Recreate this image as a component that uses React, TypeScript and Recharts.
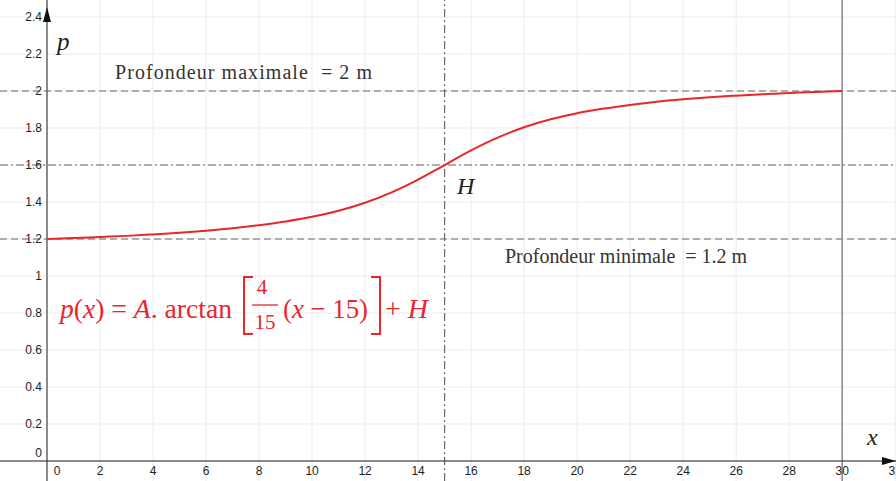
import React from 'react';
import { LineChart, Line, XAxis, YAxis, ReferenceLine, ReferenceDot } from 'recharts';

// abscisse x (m) et profondeur p (m)
const xValues = [0, 1, 2, 3, 4, 5, 6, 7, 8, 9, 10, 11, 12, 13, 14, 15, 16, 17, 18, 19, 20, 21, 22, 23, 24, 25, 26, 27, 28, 29, 30];
const depthValues = [1.2, 1.205, 1.211, 1.217, 1.225, 1.234, 1.245, 1.258, 1.275, 1.295, 1.32, 1.353, 1.396, 1.452, 1.521, 1.6, 1.679, 1.748, 1.804, 1.847, 1.88, 1.905, 1.925, 1.942, 1.955, 1.966, 1.975, 1.983, 1.989, 1.995, 2.0];

const xTicks = [0, 2, 4, 6, 8, 10, 12, 14, 16, 18, 20, 22, 24, 26, 28, 30, 32];
const yTicks = [0, 0.2, 0.4, 0.6, 0.8, 1, 1.2, 1.4, 1.6, 1.8, 2, 2.2, 2.4];

const depthMax = 2;
const depthMin = 1.2;
const H = 1.6;
const xMid = 15;
const xEnd = 30;

const W = 896;
const HGT = 481;
const RED = '#e8262c';
const TICK_FONT = '"Liberation Sans", Arial, sans-serif';
const SERIF = '"Liberation Serif", "Times New Roman", serif';

const data = xValues.map((x, i) => ({ x, p: depthValues[i] }));

const fmt = (v: number) => String(Number(v.toFixed(1)));

const XTickLabel = (v: number) => (props: any) => (
    <text x={props.cx + (v === 0 ? 10 : 0)} y={props.cy + 14} textAnchor="middle"
        fontFamily={TICK_FONT} fontSize={12} fill="#1e1e1e">{fmt(v)}</text>
);

const YTickLabel = (v: number) => (props: any) => (
    <text x={props.cx - 5} y={props.cy + (v === 0 ? -4 : 4)} textAnchor="end"
        fontFamily={TICK_FONT} fontSize={12} fill="#1e1e1e">{fmt(v)}</text>
);

const Overlay = () => (
    <svg width={W} height={HGT} style={{ position: 'absolute', left: 0, top: 0, pointerEvents: 'none' }}>
        {/* flèches des axes */}
        <polygon points="47,7 43,22 51,22" fill="#111" />
        <polygon points="896,461 882,457 882,465" fill="#111" />

        <text x={57} y={50} fontFamily={SERIF} fontStyle="italic" fontSize={25} fill="#222">p</text>
        <text x={867} y={445} fontFamily={SERIF} fontStyle="italic" fontSize={24} fill="#222">x</text>
        <text x={457} y={194} fontFamily={SERIF} fontStyle="italic" fontSize={24} fill="#222">H</text>

        <text x={115} y={79} fontFamily={SERIF} fontSize={20} fill="#333" textLength={257} lengthAdjust="spacing">
            Profondeur maximale{'\u00a0\u00a0'}= 2 m
        </text>
        <text x={505} y={263} fontFamily={SERIF} fontSize={20} fill="#333" textLength={242} lengthAdjust="spacing">
            Profondeur minimale{'\u00a0\u00a0'}= 1.2 m
        </text>

        {/* formule */}
        <g fill={RED} fontFamily={SERIF} fontSize={28}>
            <text x={60} y={318} textLength={172} lengthAdjust="spacingAndGlyphs">
                <tspan fontStyle="italic">p</tspan>(<tspan fontStyle="italic">x</tspan>) = <tspan fontStyle="italic">A</tspan>. arctan
            </text>
            <path d="M253,277 L244,277 L244,334 L253,334" fill="none" stroke={RED} strokeWidth={2} />
            <text x={262} y={294} textAnchor="middle" fontSize={21}>4</text>
            <line x1={252} y1={305} x2={278} y2={305} stroke={RED} strokeWidth={1.3} />
            <text x={265} y={329} textAnchor="middle" fontSize={21}>15</text>
            <text x={283} y={318} textLength={85} lengthAdjust="spacingAndGlyphs">
                (<tspan fontStyle="italic">x</tspan> − 15)
            </text>
            <path d="M371,277 L380,277 L380,334 L371,334" fill="none" stroke={RED} strokeWidth={2} />
            <text x={385} y={318} textLength={43} lengthAdjust="spacing">
                + <tspan fontStyle="italic">H</tspan>
            </text>
        </g>
    </svg>
);

export default function App() {
    return (
        <div style={{ position: 'relative', width: W, height: HGT, background: '#fff' }}>
            <style>{'body{margin:0}'}</style>
            <LineChart width={W} height={HGT} data={data} margin={{ top: 0, right: 0, bottom: 0, left: 0 }}>
                <XAxis dataKey="x" type="number" domain={[-1.773, 32.03]} hide allowDataOverflow />
                <YAxis type="number" domain={[-0.108, 2.492]} hide allowDataOverflow />

                {xTicks.map(v => (
                    <ReferenceLine key={'gx' + v} x={v} stroke="#ebebeb" strokeWidth={1} />
                ))}
                {yTicks.map(v => (
                    <ReferenceLine key={'gy' + v} y={v} stroke="#ebebeb" strokeWidth={1} />
                ))}

                <ReferenceLine y={depthMax} stroke="#6a6a6a" strokeWidth={1.2} strokeDasharray="7 4" />
                <ReferenceLine y={depthMin} stroke="#6a6a6a" strokeWidth={1.2} strokeDasharray="7 4" />
                <ReferenceLine y={H} stroke="#6a6a6a" strokeWidth={1.2} strokeDasharray="8 3 2 3" />
                <ReferenceLine x={xMid} stroke="#6a6a6a" strokeWidth={1.2} strokeDasharray="8 3 2 3" />
                <ReferenceLine x={xEnd} stroke="#8a8a8a" strokeWidth={1.5} />

                <ReferenceLine x={0} stroke="#666" strokeWidth={1.5} />
                <ReferenceLine y={0} stroke="#222" strokeWidth={1.2} />

                {xTicks.map(v => (
                    <ReferenceDot key={'lx' + v} x={v} y={0} r={0} shape={XTickLabel(v)} />
                ))}
                {yTicks.map(v => (
                    <ReferenceDot key={'ly' + v} x={0} y={v} r={0} shape={YTickLabel(v)} />
                ))}

                <Line dataKey="p" type="monotone" stroke={RED} strokeWidth={2} dot={false} activeDot={false} isAnimationActive={false} />
            </LineChart>
            <Overlay />
        </div>
    );
}
